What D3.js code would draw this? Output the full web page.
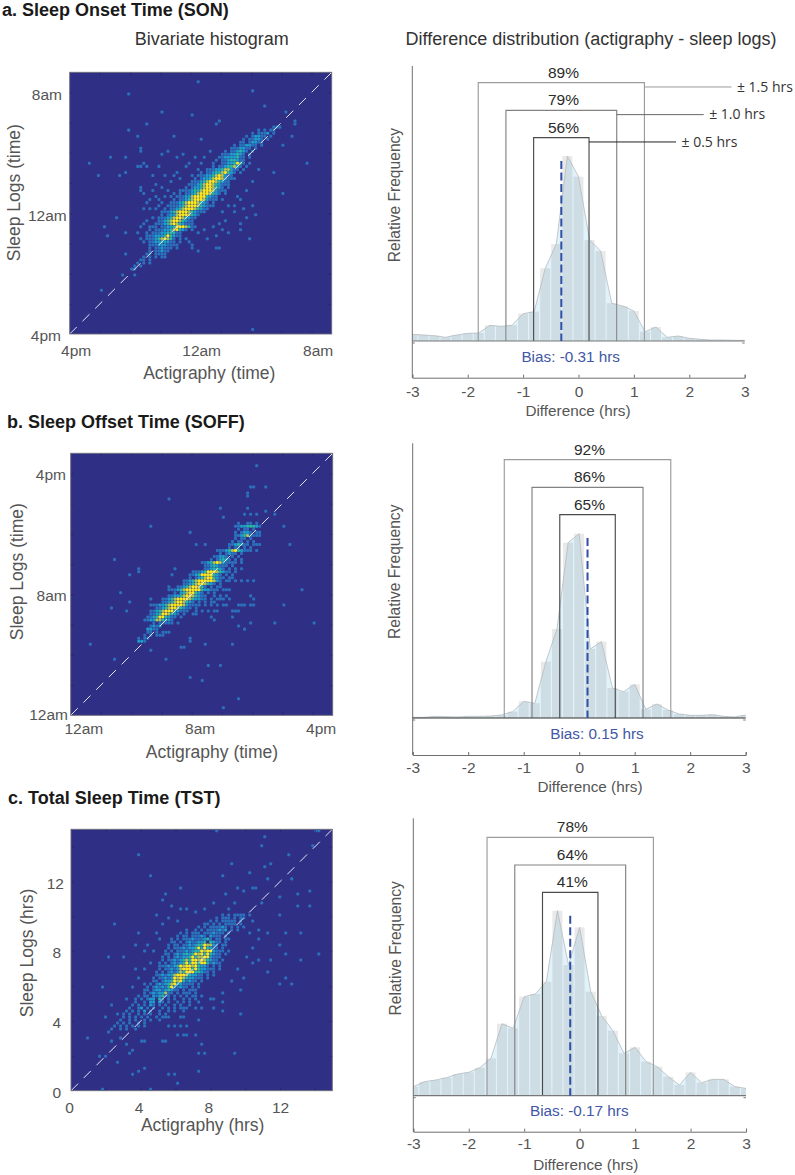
<!DOCTYPE html>
<html><head><meta charset="utf-8">
<script src="https://cdn.jsdelivr.net/npm/d3@7"></script>
<style>html,body{margin:0;background:#fff}svg{display:block}text{font-family:"Liberation Sans",Arial,sans-serif}</style>
</head><body><svg id="c" width="795" height="1175"></svg>
<script>
// ---------- heat-map cells: level 1..5 read per bin from the picture ----------
// bands: [row, first column, digits per successive column]; spots: [column,row]
const sonBand=[[68,66,".111"],[67,62,"1.1.11"],[66,60,"1.1112.1"],[65,58,"1.12211.1"],[64,57,"1.11221.1"],[63,56,"11.12211"],[62,54,"1.112211.1"],[61,53,"1112211.1"],[60,51,"1.112321.1"],[59,50,"11122321.1"],[58,49,"112222311.1"],[57,48,"1.11233211"],[56,50,"11223531.1"],[55,47,"1.11233421.1"],[54,45,"11122344211.1"],[53,43,"1.1123345321.1"],[52,42,"111223454211"],[51,41,"1.122345542111"],[50,40,"1112345543211"],[49,39,"11123455432111"],[48,38,"1.12234554321.1"],[47,37,"111233455542111"],[46,36,"1.112345554321.1"],[45,35,"11122455553211"],[44,34,"1.1123455542111.1"],[43,33,"1112345554321.1"],[42,32,"1.11234555432111"],[41,31,"1.1123455543211"],[40,31,"11234555432111"],[39,30,"1.12245554321"],[38,29,"1112345543211"],[37,29,"112345543211"],[36,28,"1112345432111"],[35,26,"111.112235554311"],[34,26,"1.11122345321.1"],[33,25,"1.1112233311"],[32,25,"111222353211"],[31,25,"1112345431.1"],[30,26,"112232211.1"],[29,26,"1112221111"],[28,26,"1.112111.1"],[27,26,"1.11211"],[26,25,"11.1111"],[25,24,"1.1.1.11"],[24,23,"11.1"],[23,22,"1.1.1"],[22,21,"1.1"],[21,20,"11"]];
const sonSpots=[[42,83],[60,80],[19,79],[64,75],[30,73],[40,72],[71,73],[49,70],[48,69],[74,70],[74,69],[25,69],[19,67],[22,65],[23,61],[23,60],[34,65],[43,64],[73,65],[66,67],[6,56],[9,52],[13,58],[18,58],[18,53],[16,52],[23,55],[78,56],[70,46],[67,53],[70,62],[15,38],[11,35],[12,32],[18,33],[18,26],[10,14],[17,19],[21,19],[60,1],[59,31],[56,36],[61,39],[56,34],[60,42],[40,28],[42,27],[48,28],[49,28],[22,55],[24,56],[25,55],[23,48],[23,47],[24,46],[26,44],[27,47],[28,45],[29,44],[24,41],[25,43],[26,41],[28,41],[29,42],[30,43],[31,45],[32,47],[33,50],[34,52],[36,51],[35,53],[38,55],[40,52],[39,56],[41,58],[37,59],[36,47],[33,45],[30,48],[28,49],[31,52],[27,52],[29,55],[30,59],[32,60],[35,58],[34,46],[31,40],[27,38],[25,37],[24,36],[23,35],[26,35],[22,33],[25,32],[24,30],[23,31],[27,33],[29,37],[28,36],[30,40],[33,42],[36,43],[38,47],[40,49],[42,54],[43,56],[44,58],[46,60],[47,56],[50,40],[52,42],[54,40],[55,45],[57,41],[58,38],[49,36],[50,34],[52,33],[48,32],[45,31],[40,29],[39,30],[38,31],[42,33],[44,34],[47,35],[51,37],[54,42],[56,44],[60,50],[62,54],[58,47]];
const soffBand=[[66,57,"1.1.1"],[63,55,"1..11.1"],[62,54,"112233321"],[61,55,"1.11.1"],[60,54,"1.1221.11"],[59,54,"112341111"],[58,54,"1.11.1"],[57,53,"1.11.1.1"],[56,52,"1123211.111"],[55,52,"1.11.1.1"],[54,48,"111234532111.1"],[53,49,"1.1211.1"],[52,47,"11221.1.1"],[51,46,"1.12321.1.1"],[50,43,"112345421111.1"],[49,44,"11232111.1"],[48,44,"1123321.1.1.1"],[47,40,"1112355543211.1"],[46,39,"11235555321.1.1"],[45,39,"1.1234553211.11"],[44,37,"1123455555421.11.1"],[43,37,"11234554321.1"],[42,35,"1123455431.1.11"],[41,33,"1123455555322111.111"],[40,34,"1.23455321.1.1"],[39,32,"1122345543211..1.1.1"],[38,30,"112345555432211.1.111.1"],[37,30,"11234554321.1.1.11"],[36,27,"1122345555421111.1.1.1.11"],[35,28,"112345543211.1"],[34,26,"1123455532111..1.1.1.11"],[33,26,"1123554321.1..11"],[32,25,"1123553211.1"],[31,24,"1122443221"],[30,27,"1.11111.1"],[29,26,"1212"],[28,25,"2211"],[27,25,"11.1.111"],[26,24,"1.1.111"],[25,22,"1.11"],[24,22,"221"]];
const soffSpots=[[61,82],[59,75],[60,75],[58,73],[58,72],[64,75],[32,71],[49,68],[58,68],[50,65],[64,67],[67,66],[26,62],[39,60],[41,56],[44,56],[70,62],[72,56],[14,51],[22,48],[22,47],[19,46],[34,48],[33,46],[32,42],[32,41],[16,40],[19,37],[13,35],[18,34],[76,41],[70,36],[67,30],[80,30],[6,23],[14,18],[26,38],[26,36],[26,33],[39,25],[39,24],[36,22],[37,22],[44,23],[53,23],[26,21],[31,18],[45,16],[49,16],[39,12],[43,11],[55,5],[50,2],[57,28],[55,29],[59,30],[53,32],[47,31],[46,32],[59,39],[60,38],[54,44],[56,44],[60,44],[58,44],[55,36],[56,36],[57,36],[59,36],[60,36],[53,34],[54,34],[55,34],[43,34],[45,34],[47,34]];
const tstBand=[[58,50,"1.1.11.1.1"],[57,48,"1.111.1.11"],[56,46,"1.1.11111.1"],[55,44,"11.1.1.1111.1"],[54,42,"1.1.111121.1.1.1"],[53,38,"1..1.1.1111212.1.1"],[52,36,"1.1.111.1112111.1"],[51,35,"1.11.11121.2111.1"],[50,33,"1.1.1112111231.11.11"],[49,33,"11.1.1211223.3211.1"],[48,32,"1.11.112123354421.11"],[47,32,"1.111212235253211.1"],[46,31,"1.1.1112123354552111.1"],[45,31,"11.1212323545353211.1"],[44,30,"1.1.1212235344552111"],[43,30,"1.11212343554543211.1"],[42,29,"1.1.12123535535531211"],[41,29,"11121235455453221.1.1"],[40,29,"1.11212455535322111.1"],[39,28,"1.1.12124355533211.1"],[38,28,"1121224555432211.1.1"],[37,27,"1.112125454322111.1"],[36,27,"11.122354531211.1"],[35,26,"1.1212345321111.1"],[34,25,"1.121213521211.1.1"],[33,24,"11.122123211.1.111"],[32,24,"1.12122411.1.1.1.1"],[31,22,"1.11.212311.1.1.1.11"],[30,21,"1.1.122.31.1.1..1.1.1"],[29,21,"1..1.22.21.1..1.1.1"],[28,20,"1.1.1.21.1.1..1.1..1"],[27,19,"1..12.1.1..1.1.1.1.1"],[26,18,"1.1.1.2.1..1..1.1..1"],[25,17,"1.1..1.1.1..1.1"],[24,17,"1.1.1.1.1..1.1"],[23,16,"1..1.1..1.1..1"],[22,15,"1.1.1..1.1"],[21,14,"1.1.1.1.1.1"],[20,13,"1..1.1..1"]];
const tstSpots=[[22,78],[26,71],[48,86],[64,84],[63,81],[81,86],[82,86],[80,81],[72,78],[53,75],[66,75],[64,74],[59,72],[50,71],[73,70],[65,70],[60,67],[55,67],[36,67],[31,65],[51,65],[57,66],[61,67],[79,66],[75,65],[69,64],[63,62],[54,62],[75,61],[79,61],[30,63],[33,61],[36,60],[28,58],[69,58],[14,55],[21,48],[24,46],[22,52],[62,53],[59,52],[71,52],[76,52],[65,52],[69,48],[71,45],[82,45],[12,44],[17,44],[76,43],[62,43],[66,43],[60,42],[65,39],[57,37],[71,37],[69,35],[73,35],[87,36],[10,34],[18,30],[13,28],[11,24],[5,17],[56,25],[54,12],[43,15],[42,12],[44,12],[42,6],[34,5],[32,5],[35,2],[26,0],[10,0],[20,5],[22,6],[24,7],[15,9],[9,11],[11,11],[19,12],[23,16],[24,16],[30,16],[31,16],[35,18],[37,18],[38,18],[41,18],[34,21],[32,21],[36,21],[38,21],[42,23],[36,24],[37,24],[31,24],[32,24],[41,27],[43,27],[47,27],[50,26],[50,29],[46,30],[37,27],[39,29],[43,31],[56,33],[27,46],[29,50],[26,42],[24,40],[22,37],[20,34],[25,48],[28,52],[30,55],[32,57],[35,56],[38,60],[41,59],[44,60],[47,62],[52,60],[56,58],[60,56],[62,50],[60,47],[58,44],[55,40],[53,36],[50,32],[47,30],[42,29],[38,32],[21,40],[24,35],[23,30],[17,22],[15,25],[14,21],[12,19],[13,16],[16,17],[20,13],[18,15]];
const levelColors=["#2f2f85","#2c70bb","#1f9ccb","#2cb5a4","#a9c45a","#f8e71e"];

// ---------- difference histograms (bin centre, relative frequency) ----------
const diffBins=[-3,-2.8,-2.6,-2.4,-2.2,-2,-1.8,-1.6,-1.4,-1.2,-1,-0.8,-0.6,-0.4,-0.2,0,0.2,0.4,0.6,0.8,1,1.2,1.4,1.6,1.8,2,2.2,2.4,2.6,2.8,3];
const sonFreq=[.020,.018,.016,.011,.018,.023,.024,.047,.044,.047,.082,.088,.218,.291,.555,.493,.303,.270,.113,.105,.090,.028,.042,.011,.015,.008,.005,.003,.003,.002,.002];
const soffFreq=[.002,.002,.005,.004,.003,.005,.005,.006,.009,.019,.050,.044,.169,.267,.526,.553,.207,.229,.090,.079,.101,.026,.042,.024,.012,.008,.008,.010,.005,.003,.009];
const tstFreq=[.027,.042,.047,.054,.065,.070,.084,.112,.216,.202,.297,.305,.342,.555,.392,.505,.312,.239,.195,.127,.145,.102,.087,.057,.032,.070,.039,.049,.049,.027,.022];
const windows=[1.5,1,0.5];
const windowTops=[.775,.692,.610];
const leaderLabels=["± 1.5 hrs","± 1.0 hrs","± 0.5 hrs"];
const diffTicks=[-3,-2,-1,0,1,2,3];

const svg=d3.select("#c");
const defs=svg.append("defs");

function label(t,x,y,size,o={}){
  const e=svg.append("text").attr("x",x).attr("y",y).attr("font-size",size).attr("fill",o.fill||"#555")
    .attr("dominant-baseline","central").attr("text-anchor",o.anchor||"middle").text(t);
  if(o.bold)e.attr("font-weight","bold");
  if(o.rot)e.attr("transform",`rotate(-90 ${x} ${y})`);
  if(o.family)e.style("font-family",o.family);
  return e;
}

function heat(p){
  const x=d3.scaleLinear().domain(p.domain).range([p.x0,p.x1]);
  const y=d3.scaleLinear().domain(p.domain).range([p.y1,p.y0]);
  const cells=[];
  const add=(c,r,l)=>cells.push({v:p.domain[0]+c*p.bin,w:p.domain[0]+r*p.bin,l});
  p.spots.forEach(s=>add(s[0],s[1],1));
  p.band.forEach(([r,c0,d])=>[...d].forEach((ch,k)=>{if(ch!==".")add(c0+k,r,+ch)}));
  const best=d3.rollup(cells,v=>d3.max(v,d=>d.l),d=>d.v+"|"+d.w);
  const g=svg.append("g");
  g.append("rect").attr("x",p.x0).attr("y",p.y0).attr("width",p.x1-p.x0).attr("height",p.y1-p.y0).attr("fill",levelColors[0]);
  const cid="clip"+p.id, fid="soft"+p.id;
  defs.append("filter").attr("id",fid).attr("x","-5%").attr("y","-5%").attr("width","110%").attr("height","110%")
    .append("feGaussianBlur").attr("stdDeviation",p.blur);
  defs.append("clipPath").attr("id",cid).append("rect").attr("x",p.x0).attr("y",p.y0).attr("width",p.x1-p.x0).attr("height",p.y1-p.y0);
  const w=x(p.domain[0]+p.bin)-x(p.domain[0]);
  g.append("g").attr("clip-path",`url(#${cid})`).append("g").attr("filter",`url(#${fid})`)
   .selectAll("rect").data(Array.from(best)).join("rect")
   .attr("x",d=>x(+d[0].split("|")[0])).attr("y",d=>y(+d[0].split("|")[1])-w)
   .attr("width",w).attr("height",w).attr("rx",1).attr("fill",d=>levelColors[d[1]]);
  // diagonal
  g.append("line").attr("x1",x(p.domain[0])).attr("y1",y(p.domain[0])).attr("x2",x(p.domain[1])).attr("y2",y(p.domain[1]))
   .attr("stroke","#dfe5ef").attr("stroke-width",1).attr("stroke-dasharray","10 8").attr("clip-path",`url(#${cid})`);
  // minor inner ticks on all sides
  const ax=[[d3.axisBottom(x),0,p.y1],[d3.axisTop(x),0,p.y0],[d3.axisLeft(y),p.x0,0],[d3.axisRight(y),p.x1,0]];
  ax.forEach(([a,tx,ty])=>{
    const t=svg.append("g").attr("transform",`translate(${tx},${ty})`).call(a.tickValues(p.minor).tickSize(-3).tickFormat(""));
    t.selectAll("line").attr("stroke","#24246a").attr("stroke-width",.7);
    t.select(".domain").remove();
  });
  svg.append("rect").attr("x",p.x0).attr("y",p.y0).attr("width",p.x1-p.x0).attr("height",p.y1-p.y0).attr("fill","none").attr("stroke","#6b6b78").attr("stroke-width",.9);
  // tick labels
  const xa=svg.append("g").attr("transform",`translate(0,${p.y1})`).call(d3.axisBottom(x).tickValues(p.ticks).tickSize(0).tickFormat((d,i)=>p.labels[i]));
  xa.select(".domain").remove();
  xa.selectAll("text").attr("font-size",15.5).attr("fill","#555").style("font-family",'"Liberation Sans"').attr("dominant-baseline","central").attr("dy",0).attr("y",p.xLabY-p.y1).attr("dx",(d,i)=>p.xLabDx[i]);
  const ya=svg.append("g").attr("transform",`translate(${p.x0},0)`).call(d3.axisLeft(y).tickValues(p.ticks).tickSize(0).tickFormat((d,i)=>p.labels[i]));
  ya.select(".domain").remove();
  ya.selectAll("text").attr("font-size",15.5).attr("fill","#555").style("font-family",'"Liberation Sans"').attr("dominant-baseline","central").attr("dy",(d,i)=>p.yLabDy[i]).attr("x",(d,i)=>p.yLabRight[i]-p.x0);
  label(p.xTitle,p.xTitleX,p.xTitleY,17.5);
  label(p.yTitle,p.yTitleX,p.yTitleY,17.5,{rot:true});
}

function hist(p){
  const x=d3.scaleLinear().domain([-3,3]).range([p.x0,p.x1]);
  const y=d3.scaleLinear().domain([0,(p.base-p.top)/333.33]).range([p.base,p.top]);
  const data=diffBins.map((b,i)=>({b,f:p.freq[i]}));
  const bw=x(0.2)-x(0);
  const g=svg.append("g").style("isolation","isolate");
  g.selectAll("rect").data(data).join("rect")
    .attr("x",d=>Math.max(p.x0,x(d.b)-bw/2+.5)).attr("width",d=>bw-1.1-(d.b===-3||d.b===3?bw/2-.5:0))
    .attr("y",d=>y(d.f)).attr("height",d=>p.base-y(d.f)).attr("fill","#e9e9e9");
  g.append("path").datum(data).attr("d",d3.area().x(d=>x(d.b)).y0(p.base).y1(d=>y(d.f)))
    .attr("fill","#e2f2fa").style("mix-blend-mode","multiply");
  svg.append("path").datum(data).attr("d",d3.line().x(d=>x(d.b)).y(d=>y(d.f))).attr("fill","none").attr("stroke","#b4bbbe").attr("stroke-width",.8);
  // axes
  const c="#6e6e6e";
  svg.append("line").attr("x1",p.x0).attr("x2",p.x0).attr("y1",p.top).attr("y2",p.bot).attr("stroke",c).attr("stroke-width",1);
  const xa=svg.append("g").attr("transform",`translate(0,${p.bot})`).call(d3.axisBottom(x).tickValues(diffTicks).tickSize(-3).tickFormat(d=>d));
  xa.select(".domain").attr("stroke",c).attr("stroke-width",1);
  xa.selectAll("line").attr("stroke",c);
  xa.selectAll("text").attr("font-size",15.5).attr("fill","#555").style("font-family",'"Liberation Sans"').attr("dominant-baseline","central").attr("dy",0).attr("y",p.tickY-p.bot);
  [-3,3].forEach(v=>svg.append("line").attr("x1",x(v)).attr("x2",x(v*.985)).attr("y1",p.base+2).attr("y2",p.base+2).attr("stroke",c).attr("stroke-width",.9));
  // nested windows
  const cols=["#9c9c9c","#828282","#4a4a4a"];
  windows.forEach((w,i)=>{
    const a=x(p.bias-w),b=x(p.bias+w),t=y(windowTops[i]);
    svg.append("path").attr("d",d3.line()([[a,p.base],[a,t],[b,t],[b,p.base]])).attr("fill","none").attr("stroke",cols[i]).attr("stroke-width",1.15);
    label(p.pct[i]+"%",p.pctX,t-10.4,15.5,{fill:"#2b2b2b"});
    if(p.leaders){
      const ly=t+4.3;
      svg.append("line").attr("x1",b).attr("x2",b+87).attr("y1",ly).attr("y2",ly).attr("stroke",["#999","#666","#222"][i]).attr("stroke-width",1);
      label(leaderLabels[i],b+92.5,ly-.8,14,{anchor:"start",fill:"#333",family:'"Open Sans"'});
    }
  });
  svg.append("line").attr("x1",p.x0).attr("x2",p.x1).attr("y1",p.base).attr("y2",p.base).attr("stroke",p.baseCol).attr("stroke-width",1.2);
  svg.append("line").attr("x1",x(p.bias)).attr("x2",x(p.bias)).attr("y1",y(.54)).attr("y2",p.base).attr("stroke","#2f4fa6").attr("stroke-width",2).attr("stroke-dasharray","8 3.5");
  label(`Bias: ${p.bias.toFixed(2)} hrs`,p.biasX,p.biasY,15.3,{fill:"#3f57a6"});
  label("Relative Frequency",p.relX,p.relY,15.6,{rot:true});
  label("Difference (hrs)",p.diffX,p.diffY,15.3);
}

label("a. Sleep Onset Time (SON)",2,9.5,18,{bold:true,anchor:"start",fill:"#1a1a1a"});
label("b. Sleep Offset Time (SOFF)",7,421.5,18,{bold:true,anchor:"start",fill:"#1a1a1a"});
label("c. Total Sleep Time (TST)",8,798,18,{bold:true,anchor:"start",fill:"#1a1a1a"});
label("Bivariate histogram",211.7,38.7,18,{fill:"#333"});
label("Difference distribution (actigraphy - sleep logs)",591,38.7,18,{fill:"#333"});

heat({id:"a",blur:.65,domain:[16,33.33],bin:.2,x0:69.7,x1:331.7,y0:72.3,y1:334,band:sonBand,spots:sonSpots,minor:d3.range(18,33,2),ticks:[16,24,32],labels:["4pm","12am","8am"],
  xLabY:350,xLabDx:[6,10.5,6],yLabDy:[1,1.7,1.4],yLabRight:[61,66.7,62],xTitle:"Actigraphy (time)",xTitleX:209.3,xTitleY:373,yTitle:"Sleep Logs (time)",yTitleX:14,yTitleY:192.7});
heat({id:"b",blur:.5,domain:[0,17.33],bin:.2,x0:70.7,x1:332.7,y0:453.3,y1:715.3,band:soffBand,spots:soffSpots,minor:d3.range(2,17,2),ticks:[0,8,16],labels:["12am","8am","4pm"],
  xLabY:729,xLabDx:[12.6,8,8],yLabDy:[-1,.7,1],yLabRight:[68,66.7,66],xTitle:"Actigraphy (time)",xTitleX:212,xTitleY:751.7,yTitle:"Sleep Logs (time)",yTitleX:17.3,yTitleY:571.7});
heat({id:"c",blur:.6,domain:[0,15],bin:15/87,x0:71,x1:332.3,y0:829.3,y1:1090.7,band:tstBand,spots:tstSpots,minor:d3.range(2,15,2),ticks:[0,4,8,12],labels:["0","4","8","12"],
  xLabY:1108,xLabDx:[-2,-2,-2,0],yLabDy:[1,1,1,1.7],yLabRight:[61,61,61,64],xTitle:"Actigraphy (hrs)",xTitleX:202.7,xTitleY:1125,yTitle:"Sleep Logs (hrs)",yTitleX:27.3,yTitleY:953});

hist({x0:412.3,x1:744.7,top:66,base:341,bot:377.7,freq:sonFreq,bias:-.31,pct:[89,79,56],pctX:563.5,biasX:570.7,biasY:356,tickY:391.7,relX:394,relY:195,diffX:578,diffY:410,leaders:true,baseCol:"#777"});
hist({x0:412.7,x1:745.7,top:443.3,base:718,bot:755,freq:soffFreq,bias:.15,pct:[92,86,65],pctX:589.5,biasX:597,biasY:733,tickY:767,relX:395,relY:571.7,diffX:590,diffY:786,leaders:false,baseCol:"#333"});
hist({x0:413.3,x1:746,top:818.3,base:1095.7,bot:1131.7,freq:tstFreq,bias:-.17,pct:[78,64,41],pctX:572.3,biasX:579.3,biasY:1110.7,tickY:1144,relX:395.7,relY:948.3,diffX:585.7,diffY:1164,leaders:false,baseCol:"#777"});
</script></body></html>
